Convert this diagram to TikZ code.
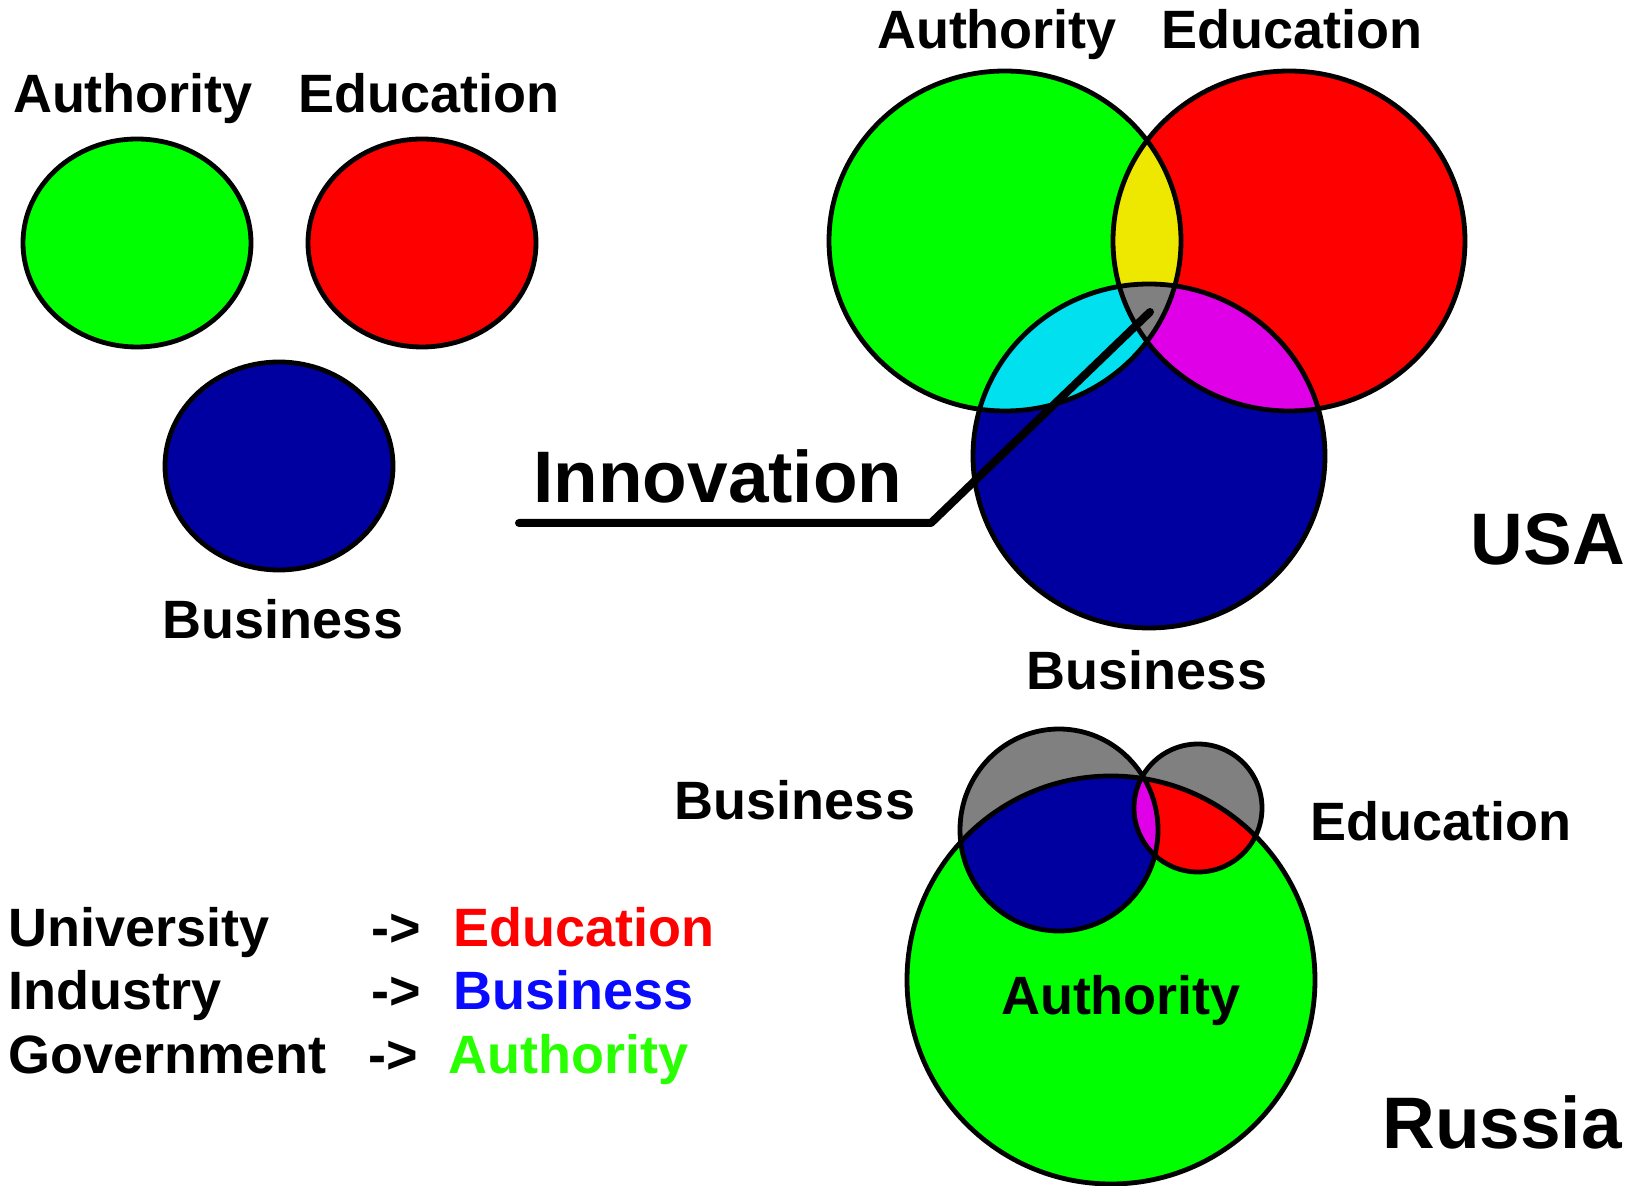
\documentclass[tikz,border=0pt]{standalone}
\usepackage{fontspec}
\setmainfont{Liberation Sans}
\usetikzlibrary{positioning}

\definecolor{authgreen}{RGB}{0,255,0}
\definecolor{edured}{RGB}{255,0,0}
\definecolor{busblue}{RGB}{0,0,160}
\definecolor{lensyellow}{RGB}{238,232,0}
\definecolor{lenscyan}{RGB}{0,224,238}
\definecolor{lensmagenta}{RGB}{224,0,232}
\definecolor{coregray}{RGB}{128,128,128}
\definecolor{textblue}{RGB}{10,10,255}
\definecolor{textgreen}{RGB}{40,255,0}

\newcommand{\usaAuth}{(1005,241) ellipse [x radius=176, y radius=170]}
\newcommand{\usaEdu}{(1289,241) ellipse [x radius=176, y radius=170]}
\newcommand{\usaBus}{(1149,456) ellipse [x radius=176, y radius=172]}
\newcommand{\ruAuth}{(1111,980) circle [radius=204]}
\newcommand{\ruBus}{(1059,830) ellipse [x radius=99, y radius=101]}
\newcommand{\ruEdu}{(1198,808) circle [radius=64]}

\begin{document}
\begin{tikzpicture}[x=0.5pt, y=-0.5pt,
  lbl/.style={font=\fontsize{27}{30}\selectfont\bfseries, anchor=base, inner sep=0pt},
  big/.style={font=\fontsize{36.5}{40}\selectfont\bfseries, anchor=base, inner sep=0pt},
  rim/.style={draw=black, line width=2.4pt}]
\useasboundingbox (0,0) rectangle (1640,1186);

\begin{scope}
\foreach \cx/\cy/\col in {137/243/authgreen, 422/243/edured, 279/466/busblue}
\draw[rim, fill=\col] (\cx,\cy) ellipse [x radius=114, y radius=104];
\node[lbl] (tl-auth) at (133,113) {Authority};
\node[lbl] (tl-edu) at (429,113) {Education};
\node[lbl] (tl-bus) at (283,639) {Business};
\end{scope}

\begin{scope}
\fill[authgreen] \usaAuth;
\fill[edured] \usaEdu;
\fill[busblue] \usaBus;
\begin{scope} \clip \usaAuth; \fill[lensyellow] \usaEdu; \fill[lenscyan] \usaBus; \end{scope}
\begin{scope} \clip \usaEdu; \fill[lensmagenta] \usaBus; \end{scope}
\begin{scope} \clip \usaAuth; \clip \usaEdu; \fill[coregray] \usaBus; \end{scope}
\draw[rim] \usaAuth;
\draw[rim] \usaEdu;
\draw[rim] \usaBus;
\node[lbl] (usa-auth) at (997,49) {Authority};
\node[lbl] (usa-edu) at (1292,49) {Education};
\node[lbl] (usa-bus) at (1147,690) {Business};
\node[big] (usa) at (1548,565) {USA};
\node[big, anchor=base west] (innov) at (533,503) {Innovation};
\coordinate (innov-tail) at (519,523);
\coordinate (innov-bend) at (931,523);
\coordinate (innov-core) at (1150,312);
\draw[line width=4pt, line cap=round, line join=round] (innov-tail) -- (innov-bend) -- (innov-core);
\end{scope}

\begin{scope}
\fill[coregray] \ruBus;
\fill[coregray] \ruEdu;
\fill[authgreen] \ruAuth;
\begin{scope} \clip \ruAuth; \fill[busblue] \ruBus; \fill[edured] \ruEdu;
\clip \ruBus; \fill[lensmagenta] \ruEdu; \end{scope}
\draw[rim] \ruAuth;
\draw[rim] \ruBus;
\draw[rim] \ruEdu;
\node[lbl] (ru-bus) at (795,820) {Business};
\node[lbl] (ru-edu) at (1441,841) {Education};
\node[lbl] (ru-auth) at (1121,1015) {Authority};
\node[big] (russia) at (1502,1148) {Russia};
\end{scope}

\foreach \who/\what/\col/\yy/\ax/\wx in {University/Education/edured/947/371/453,
  Industry/Business/textblue/1010/371/453, Government/Authority/textgreen/1074/368/448}
{
\node[lbl, anchor=base west] (who-\who) at (8,\yy) {\who};
\node[lbl, anchor=base west] (arrow-\who) at (\ax,\yy) {->};
\node[lbl, anchor=base west, text=\col] (what-\who) at (\wx,\yy) {\what};
}

\end{tikzpicture}
\end{document}
